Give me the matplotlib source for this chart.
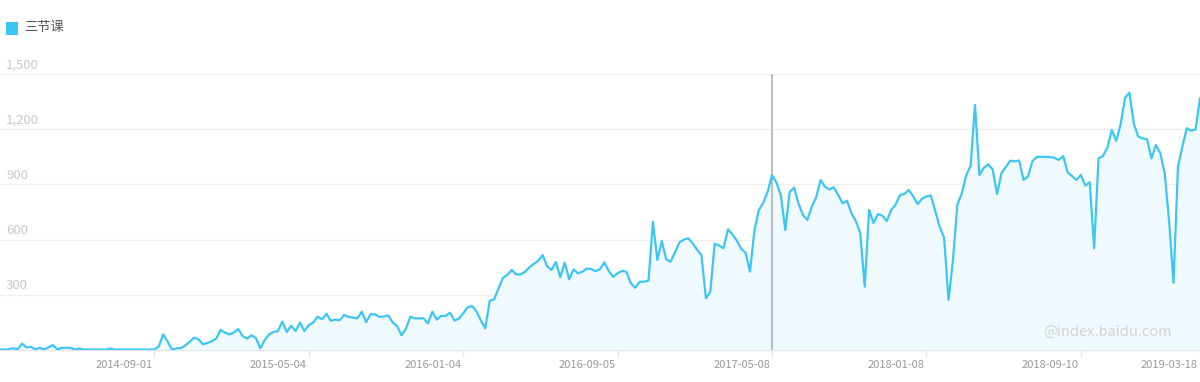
import matplotlib
matplotlib.use("Agg")
import matplotlib.pyplot as plt
import matplotlib.dates as mdates
import pandas as pd
import numpy as np

plt.rcParams['font.family'] = ['Noto Sans CJK SC', 'DejaVu Sans']

series_name = "三节课"
start_date = "2013-12-30"
end_date = "2019-03-18"

values = [
    3, 2, 5, 10, 4, 34, 14, 18, 3, 12,
    3, 15, 27, 3, 12, 12, 12, 2, 8, 2,
    2, 2, 2, 2, 2, 8, 2, 2, 2, 2,
    2, 2, 2, 2, 2, 3, 20, 85, 45, 2,
    9, 10, 25, 45, 67, 58, 31, 38, 48, 62,
    109, 95, 84, 95, 114, 76, 62, 80, 65, 9,
    54, 85, 98, 103, 154, 98, 132, 103, 149, 103,
    136, 150, 181, 167, 196, 159, 165, 162, 190, 180,
    176, 172, 208, 152, 194, 194, 180, 182, 188, 150,
    130, 80, 115, 181, 172, 172, 172, 145, 208, 165,
    185, 185, 203, 160, 170, 200, 232, 239, 210, 160,
    118, 268, 275, 335, 392, 408, 435, 411, 411, 425,
    450, 468, 485, 516, 455, 435, 478, 395, 475, 384,
    438, 417, 425, 443, 440, 428, 440, 476, 428, 398,
    417, 430, 425, 362, 338, 371, 371, 378, 697, 489,
    592, 493, 480, 530, 585, 600, 607, 580, 545, 516,
    281, 317, 578, 568, 553, 656, 628, 595, 550, 528,
    426, 650, 760, 800, 860, 951, 910, 840, 652, 860,
    882, 795, 734, 707, 779, 830, 924, 888, 873, 884,
    842, 797, 811, 743, 700, 634, 344, 761, 690, 739,
    730, 701, 761, 790, 842, 848, 870, 835, 793, 822,
    835, 839, 755, 670, 610, 272, 489, 790, 851, 950,
    1000, 1332, 951, 990, 1009, 982, 848, 962, 995, 1029,
    1025, 1030, 924, 942, 1025, 1050, 1050, 1050, 1048, 1045,
    1033, 1054, 965, 945, 924, 951, 893, 912, 553, 1041,
    1054, 1100, 1196, 1137, 1225, 1370, 1399, 1230, 1160, 1150,
    1145, 1041, 1114, 1070, 960, 700, 366, 996, 1105, 1205,
    1192, 1199, 1368,
]

tick_labels = ["2014-09-01", "2015-05-04", "2016-01-04", "2016-09-05",
               "2017-05-08", "2018-01-08", "2018-09-10", "2019-03-18"]
y_ticks = [300, 600, 900, 1200, 1500]
y_tick_labels = ["300", "600", "900", "1,200", "1,500"]
highlight_date = "2017-05-08"
watermark = "@index.baidu.com"

dates = pd.date_range(start_date, end_date, freq="7D")
n = min(len(dates), len(values))
dates = dates[:n]
vals = np.array(values[:n], dtype=float)

line_color = "#3cc6f6"
fill_color = "#f0f9fd"

fig = plt.figure(figsize=(12, 3.82), dpi=100)
ax = fig.add_axes([0, 32 / 382, 1, 276 / 382])
ax.set_xlim(dates[0], pd.Timestamp(end_date))
ax.set_ylim(0, 1500)

for s in ax.spines.values():
    s.set_visible(False)

for yv in y_ticks:
    ax.axhline(yv, color="#efefef", lw=1.0, zorder=1)
ax.axhline(0, color="#e6e6e6", lw=1.0, zorder=1, clip_on=False)

ax.fill_between(dates, vals, 0, color=fill_color, zorder=2, lw=0)
ax.plot(dates, vals, color=line_color, lw=1.6, zorder=4, solid_joinstyle="round")

ax.axvline(pd.Timestamp(highlight_date), ymin=0, ymax=1, color="#bdbdbd", lw=1.5, zorder=3)

ax.set_yticks([])
tick_dates = [pd.Timestamp(t) for t in tick_labels]
ax.set_xticks(tick_dates)
ax.set_xticklabels([])
ax.tick_params(axis="x", length=5, width=1, color="#e6e6e6", direction="out")

for td, tl in zip(tick_dates, tick_labels):
    ax.annotate(tl, xy=(td, 0), xycoords=("data", "data"), xytext=(-2, -15),
                textcoords="offset pixels", ha="right", va="center",
                fontsize=8, color="#999999", annotation_clip=False)

for yv, yl in zip(y_ticks, y_tick_labels):
    ax.annotate(yl, xy=(0, yv), xycoords=("axes fraction", "data"), xytext=(6, 9),
                textcoords="offset pixels", ha="left", va="center",
                fontsize=9.5, color="#c8c8c8", annotation_clip=False)

# legend
fig.patches.append(matplotlib.patches.Rectangle((5.5 / 1200, 1 - 34.5 / 382), 12 / 1200, 12 / 382,
                                                transform=fig.transFigure, color=line_color, lw=0))
fig.text(24 / 1200, 1 - 28 / 382, series_name, ha="left", va="center", fontsize=9.5, color="#555555")

# watermark
fig.text(1172 / 1200, 1 - 332 / 382, watermark, ha="right", va="center", fontsize=10.5, color="#d3d3d3")

fig.savefig("out.png", dpi=100)
